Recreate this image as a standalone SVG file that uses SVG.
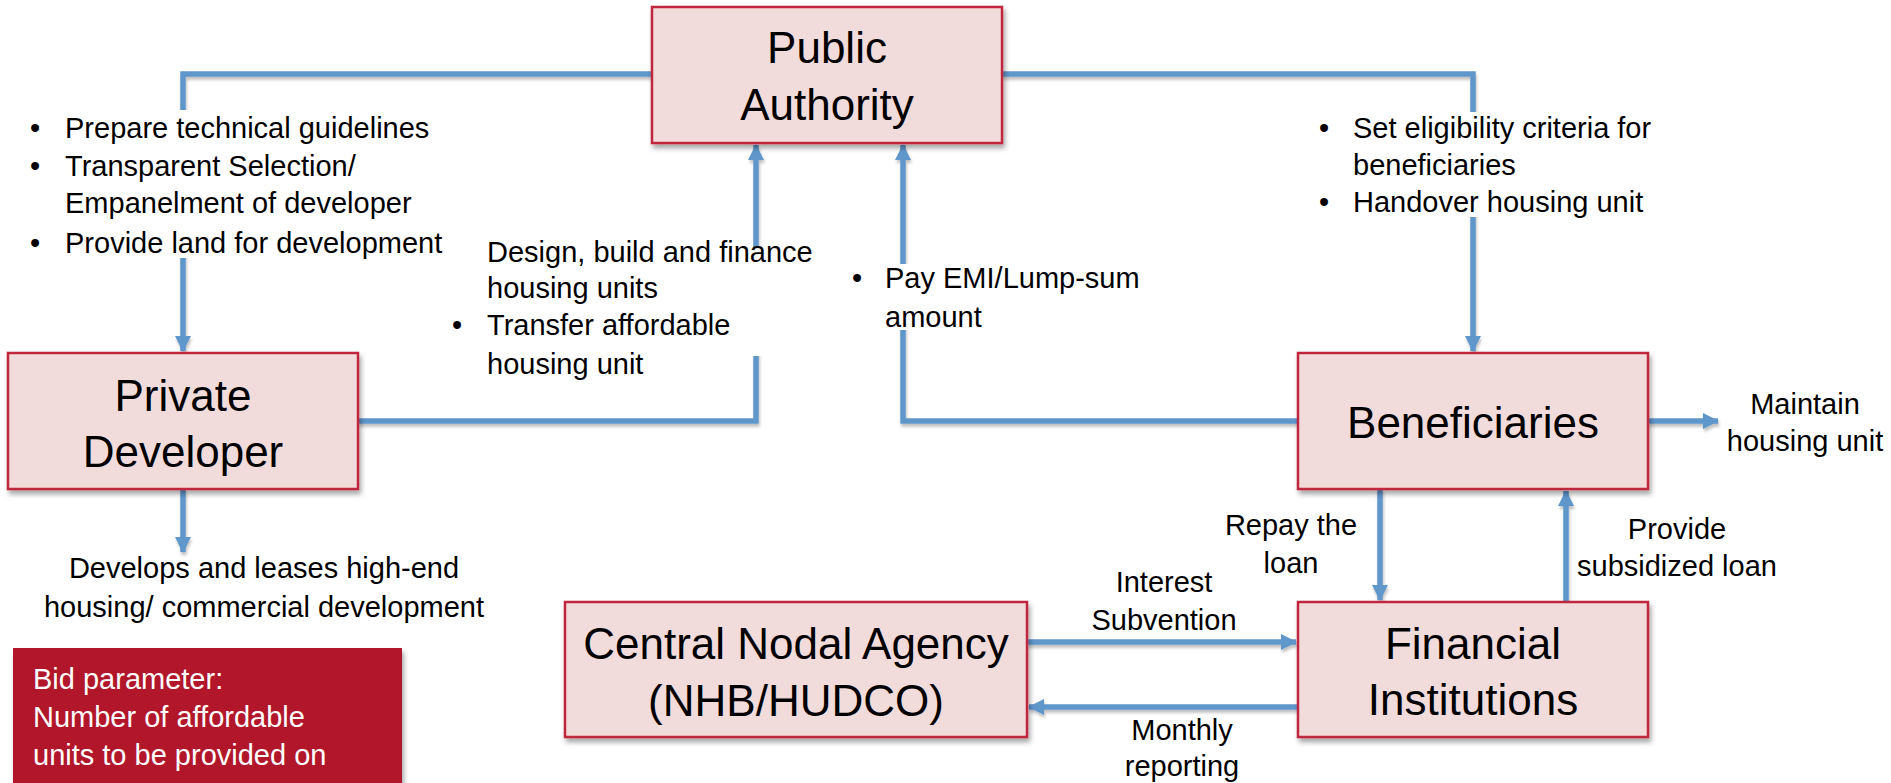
<svg xmlns="http://www.w3.org/2000/svg" width="1891" height="783" viewBox="0 0 1891 783">
  <defs>
    <filter id="shadow" x="-10%" y="-10%" width="120%" height="130%">
      <feDropShadow dx="2" dy="4" stdDeviation="2.5" flood-color="#000" flood-opacity="0.35"/>
    </filter>
    <filter id="lineShadow" filterUnits="userSpaceOnUse" x="0" y="0" width="1891" height="783">
      <feDropShadow dx="1" dy="3" stdDeviation="1.5" flood-color="#000" flood-opacity="0.25"/>
    </filter>
    <marker id="arrow" viewBox="0 0 16 16" refX="15" refY="8" markerWidth="16" markerHeight="16" markerUnits="userSpaceOnUse" orient="auto">
      <path d="M0,0 L16,8 L0,16 Z" fill="#6097CB"/>
    </marker>
  </defs>
  <style>
    .box { fill: #F2DCDB; stroke: #C0283C; stroke-width: 2.5; filter: url(#shadow); }
    .title { font-family: "Liberation Sans", Arial, sans-serif; font-size: 44px; fill: #000; text-anchor: middle; }
    .lbl { font-family: "Liberation Sans", Arial, sans-serif; font-size: 29px; fill: #000; }
    .mid { text-anchor: middle; }
    .conn { fill: none; stroke: #6097CB; stroke-width: 5.5; filter: url(#lineShadow); }
    .pad { fill: #fff; }
    .light { fill: #fff; }
  </style>
  <rect width="1891" height="783" fill="#fff"/>

  <!-- connectors -->
  <g id="connectors">
    <path class="conn" d="M652,74 H183 V351" marker-end="url(#arrow)"/>
    <path class="conn" d="M358,421 H756 V145" marker-end="url(#arrow)"/>
    <path class="conn" d="M1298,421 H903 V145" marker-end="url(#arrow)"/>
    <path class="conn" d="M1002,74 H1473 V351" marker-end="url(#arrow)"/>
    <path class="conn" d="M1648,421 H1718" marker-end="url(#arrow)"/>
    <path class="conn" d="M183,489 V552" marker-end="url(#arrow)"/>
    <path class="conn" d="M1380,489 V600" marker-end="url(#arrow)"/>
    <path class="conn" d="M1566,601 V491" marker-end="url(#arrow)"/>
    <path class="conn" d="M1027,642 H1296" marker-end="url(#arrow)"/>
    <path class="conn" d="M1298,707 H1029" marker-end="url(#arrow)"/>
  </g>

  <!-- label text frames sitting over the connectors -->
  <g id="label-frames">
    <rect class="pad" x="20" y="110" width="445" height="148"/>
    <rect class="pad" x="445" y="248" width="385" height="108"/>
    <rect class="pad" x="845" y="264" width="300" height="66"/>
    <rect class="pad" x="1310" y="112" width="365" height="105"/>
  </g>

  <!-- nodes -->
  <g id="public-authority">
    <rect class="box" x="652" y="7" width="350" height="136"/>
    <text class="title" x="827" y="63">Public</text>
    <text class="title" x="827" y="120">Authority</text>
  </g>
  <g id="private-developer">
    <rect class="box" x="8" y="353" width="350" height="136"/>
    <text class="title" x="183" y="411">Private</text>
    <text class="title" x="183" y="467">Developer</text>
  </g>
  <g id="beneficiaries">
    <rect class="box" x="1298" y="353" width="350" height="136"/>
    <text class="title" x="1473" y="438">Beneficiaries</text>
  </g>
  <g id="financial-institutions">
    <rect class="box" x="1298" y="602" width="350" height="135"/>
    <text class="title" x="1473" y="659">Financial</text>
    <text class="title" x="1473" y="715">Institutions</text>
  </g>
  <g id="central-nodal-agency">
    <rect class="box" x="565" y="602" width="462" height="135"/>
    <text class="title" x="796" y="659">Central Nodal Agency</text>
    <text class="title" x="796" y="716">(NHB/HUDCO)</text>
  </g>
  <g id="bid-parameter">
    <rect x="13" y="648" width="389" height="150" fill="#B2182B" filter="url(#shadow)"/>
    <text class="lbl light" x="33" y="689">Bid parameter:</text>
    <text class="lbl light" x="33" y="727">Number of affordable</text>
    <text class="lbl light" x="33" y="765">units to be provided on</text>
  </g>

  <!-- labels -->
  <g id="labels">
    <text class="lbl" x="30" y="138">•</text>
    <text class="lbl" x="65" y="138">Prepare technical guidelines</text>
    <text class="lbl" x="30" y="176">•</text>
    <text class="lbl" x="65" y="176">Transparent Selection/</text>
    <text class="lbl" x="65" y="213">Empanelment of developer</text>
    <text class="lbl" x="30" y="253">•</text>
    <text class="lbl" x="65" y="253">Provide land for development</text>

    <text class="lbl" x="487" y="262">Design, build and finance</text>
    <text class="lbl" x="487" y="298">housing units</text>
    <text class="lbl" x="452" y="335">•</text>
    <text class="lbl" x="487" y="335">Transfer affordable</text>
    <text class="lbl" x="487" y="374">housing unit</text>

    <text class="lbl" x="852" y="288">•</text>
    <text class="lbl" x="885" y="288">Pay EMI/Lump-sum</text>
    <text class="lbl" x="885" y="327">amount</text>

    <text class="lbl" x="1319" y="138">•</text>
    <text class="lbl" x="1353" y="138">Set eligibility criteria for</text>
    <text class="lbl" x="1353" y="175">beneficiaries</text>
    <text class="lbl" x="1319" y="212">•</text>
    <text class="lbl" x="1353" y="212">Handover housing unit</text>

    <text class="lbl mid" x="1805" y="414">Maintain</text>
    <text class="lbl mid" x="1805" y="451">housing unit</text>

    <text class="lbl mid" x="264" y="578">Develops and leases high-end</text>
    <text class="lbl mid" x="264" y="617">housing/ commercial development</text>

    <text class="lbl mid" x="1291" y="535">Repay the</text>
    <text class="lbl mid" x="1291" y="573">loan</text>

    <text class="lbl mid" x="1677" y="539">Provide</text>
    <text class="lbl mid" x="1677" y="576">subsidized loan</text>

    <text class="lbl mid" x="1164" y="592">Interest</text>
    <text class="lbl mid" x="1164" y="630">Subvention</text>

    <text class="lbl mid" x="1182" y="740">Monthly</text>
    <text class="lbl mid" x="1182" y="776">reporting</text>
  </g>
</svg>
